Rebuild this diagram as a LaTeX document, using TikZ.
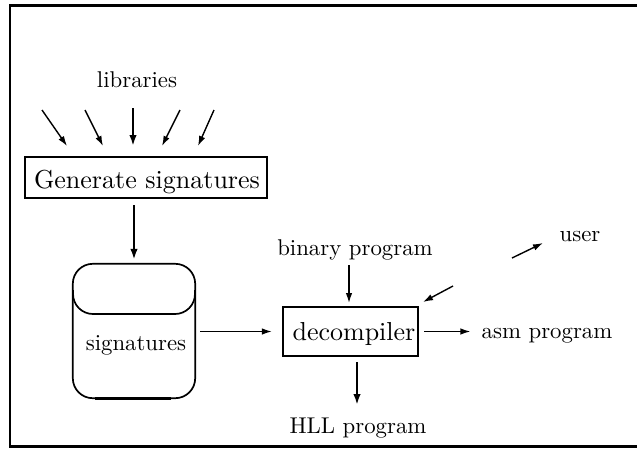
\documentclass[tikz,border=0pt]{standalone}
\usepackage{graphicx}
\usetikzlibrary{arrows.meta,calc}
\newcommand\mysmall[1]{\scalebox{2.28}{#1}}
\newcommand\mybig[1]{\scalebox{2.6}{#1}}
\begin{document}
\begin{tikzpicture}[x=1pt,y=-1pt,
  lbl/.style={inner sep=0pt, anchor=base},
  thinarr/.style={line width=1.4pt, -{Latex[length=10pt,width=6.5pt]}},
  thickarr/.style={line width=2.8pt, -{Latex[length=11pt,width=7.5pt]}},
  box/.style={draw, line width=2.2pt, inner sep=0pt},
  cyl/.style={line width=1.7pt},
]
\useasboundingbox (0,0) rectangle (637,448);
\draw[line width=2.2pt] (637,5.5) -- (10,5.5) -- (10,446.5) -- (637,446.5);

% libraries
\node[lbl] (lib) at (137,87) {\mysmall{libraries}};
\node[box, minimum width=242pt, minimum height=41pt] (gen) at (146,177.5) {};
\node[lbl] (gentext) at (147,188) {\mybig{Generate signatures}};

\coordinate (l1a) at (42,110);  \coordinate (l1b) at (67,146);
\coordinate (l2a) at (85,110);  \coordinate (l2b) at (103,146);
\coordinate (l3a) at (133,108); \coordinate (l3b) at (133,146);
\coordinate (l4a) at (180,110); \coordinate (l4b) at (162,146);
\coordinate (l5a) at (214,110); \coordinate (l5b) at (198,146);
\draw[thinarr] (l1a) -- (l1b);
\draw[thinarr] (l2a) -- (l2b);
\draw[thickarr] (l3a) -- (l3b);
\draw[thinarr] (l4a) -- (l4b);
\draw[thinarr] (l5a) -- (l5b);

% signatures store
\node[minimum width=122pt, minimum height=134pt, inner sep=0pt] (sig) at (134,331) {};
\draw[cyl, rounded corners=20pt] (sig.south west) rectangle (sig.north east);
\draw[cyl, rounded corners=20pt] (73,290) -- (73,314) -- (195,314) -- (195,290);
\draw[line width=2.8pt] ([xshift=22pt]sig.south west) -- ([xshift=-24pt]sig.south east);
\node[lbl] (sigtext) at (136,350) {\mysmall{signatures}};

\draw[thickarr] ([yshift=-6pt]gen.south -| sig.north) -- ([yshift=4pt]sig.north);

% decompiler
\node[box, minimum width=135pt, minimum height=49pt] (dec) at (350.5,331.5) {};
\node[lbl] (dectext) at (354,340) {\mybig{decompiler}};

\node[lbl] (bin) at (355,255) {\mysmall{binary program}};
\node[lbl] (user) at (580,241) {\mysmall{user}};
\node[lbl] (asm) at (547,338) {\mysmall{asm program}};
\node[lbl] (hll) at (358,433) {\mysmall{HLL program}};

\draw[thinarr] ([xshift=5pt]sig.east |- dec.west) -- ([xshift=-10pt]dec.west);

\coordinate (b1) at (349,265); \coordinate (b2) at (349,303);
\draw[thinarr] (b1) -- (b2);

\draw[thinarr] ([xshift=5pt]dec.east) -- ([xshift=-11pt]dec.east -| asm.west);

\coordinate (h1) at (357,362); \coordinate (h2) at (357,405);
\draw[thickarr] (h1) -- (h2);

\coordinate (u1) at (453,286); \coordinate (u2) at (423,302);
\draw[thinarr] (u1) -- (u2);
\coordinate (u3) at (512,258); \coordinate (u4) at (543,243);
\draw[thinarr] (u3) -- (u4);
\end{tikzpicture}
\end{document}
